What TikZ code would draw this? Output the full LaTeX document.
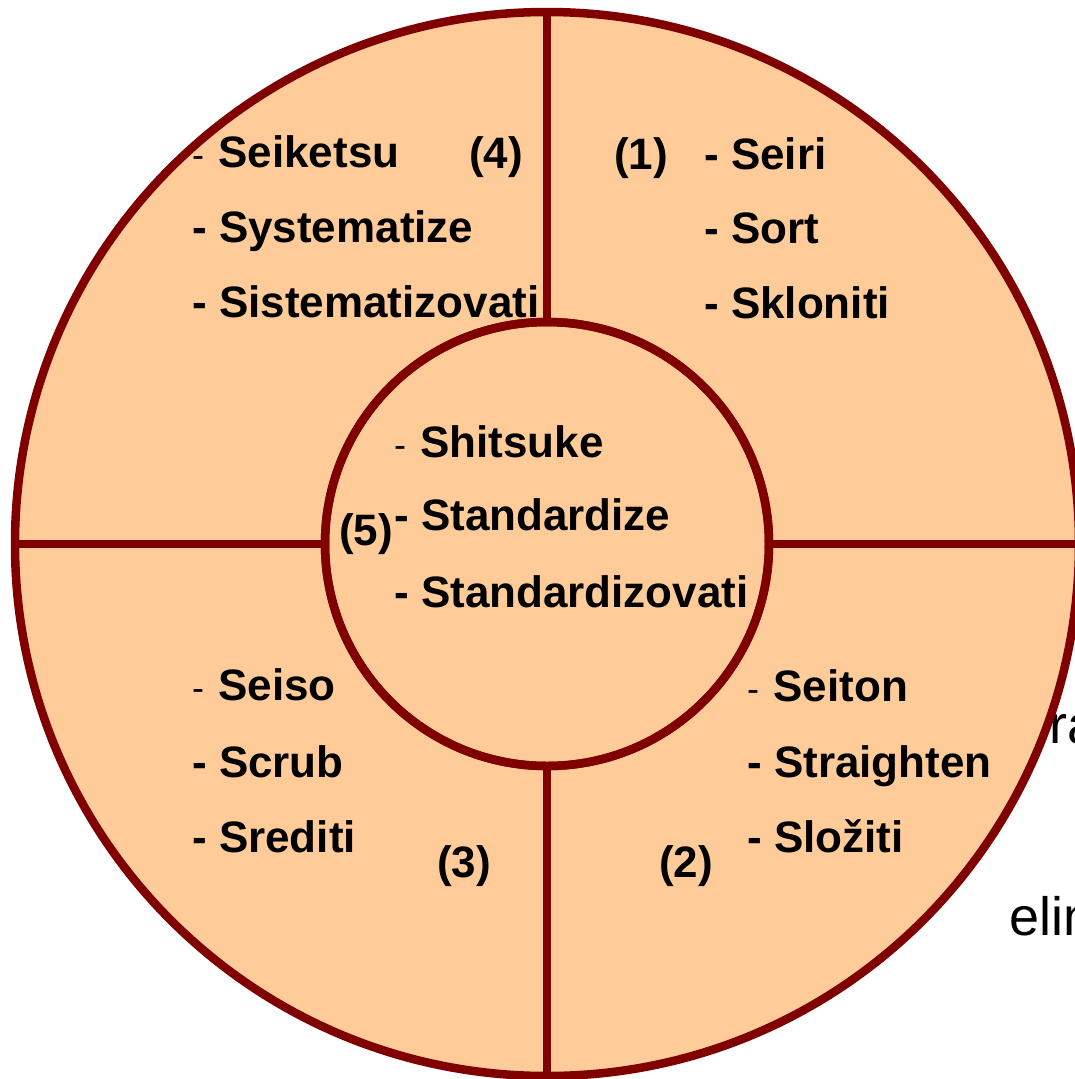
\documentclass[tikz,border=0pt]{standalone}
\usepackage{fontspec}
\setmainfont{Liberation Sans}
\definecolor{peach}{HTML}{FFCC99}
\definecolor{maroon}{HTML}{800000}
\newcommand{\thd}{{\fontsize{36}{36}\selectfont\mdseries -}\hspace{2pt}}
\begin{document}
\begin{tikzpicture}[x=1pt,y=-1pt,
  ring/.style={circle, draw=maroon, fill=peach, line width=8.5pt, inner sep=0pt, outer sep=0pt},
  divider/.style={draw=maroon, line width=8.5pt},
  lbl/.style={anchor=base west, inner sep=0pt, font=\fontsize{44}{44}\selectfont\bfseries},
  bgtxt/.style={anchor=base west, inner sep=0pt, font=\fontsize{54}{54}\selectfont}]
\useasboundingbox (0,0) rectangle (1075,1079);
\fill[white] (0,0) rectangle (1075,1079);
% partly hidden text behind the wheel
\node[bgtxt] (ra) at (1049,743) {ra};
\node[bgtxt] (elin) at (1009,935) {elin};
% wheel
\node[ring, minimum size=1064pt] (outer) at (547,544) {};
\node[ring, minimum size=444pt] (inner) at (547,544) {};
\draw[divider] (outer.north) -- (inner.north);
\draw[divider] (outer.south) -- (inner.south);
\draw[divider] (outer.west) -- (inner.west);
\draw[divider] (outer.east) -- (inner.east);
\node[ring, minimum size=444pt, fill=none] (innerb) at (547,544) {};
% (4)
\node[lbl] (s4a) at (192,167) {\thd\ Seiketsu};
\node[lbl] (n4) at (469,168) {(4)};
\node[lbl] (s4b) at (192,242) {- Systematize};
\node[lbl] (s4c) at (192,317) {- Sistematizovati};
% (1)
\node[lbl] (n1) at (614,169) {(1)};
\node[lbl] (s1a) at (704,169) {- Seiri};
\node[lbl] (s1b) at (704,243) {- Sort};
\node[lbl] (s1c) at (704,318) {- Skloniti};
% (5)
\node[lbl] (s5a) at (394,457) {\thd\ Shitsuke};
\node[lbl] (n5) at (339,545) {(5)};
\node[lbl] (s5b) at (394,530) {- Standardize};
\node[lbl] (s5c) at (394,607) {- Standardizovati};
% (3)
\node[lbl] (s3a) at (192,700) {\thd\ Seiso};
\node[lbl] (s3b) at (192,777) {- Scrub};
\node[lbl] (s3c) at (192,852) {- Srediti};
\node[lbl] (n3) at (437,877) {(3)};
% (2)
\node[lbl] (s2a) at (747,701) {\thd\ Seiton};
\node[lbl] (s2b) at (747,777) {- Straighten};
\node[lbl] (s2c) at (747,852) {- Složiti};
\node[lbl] (n2) at (659,877) {(2)};
\end{tikzpicture}
\end{document}
